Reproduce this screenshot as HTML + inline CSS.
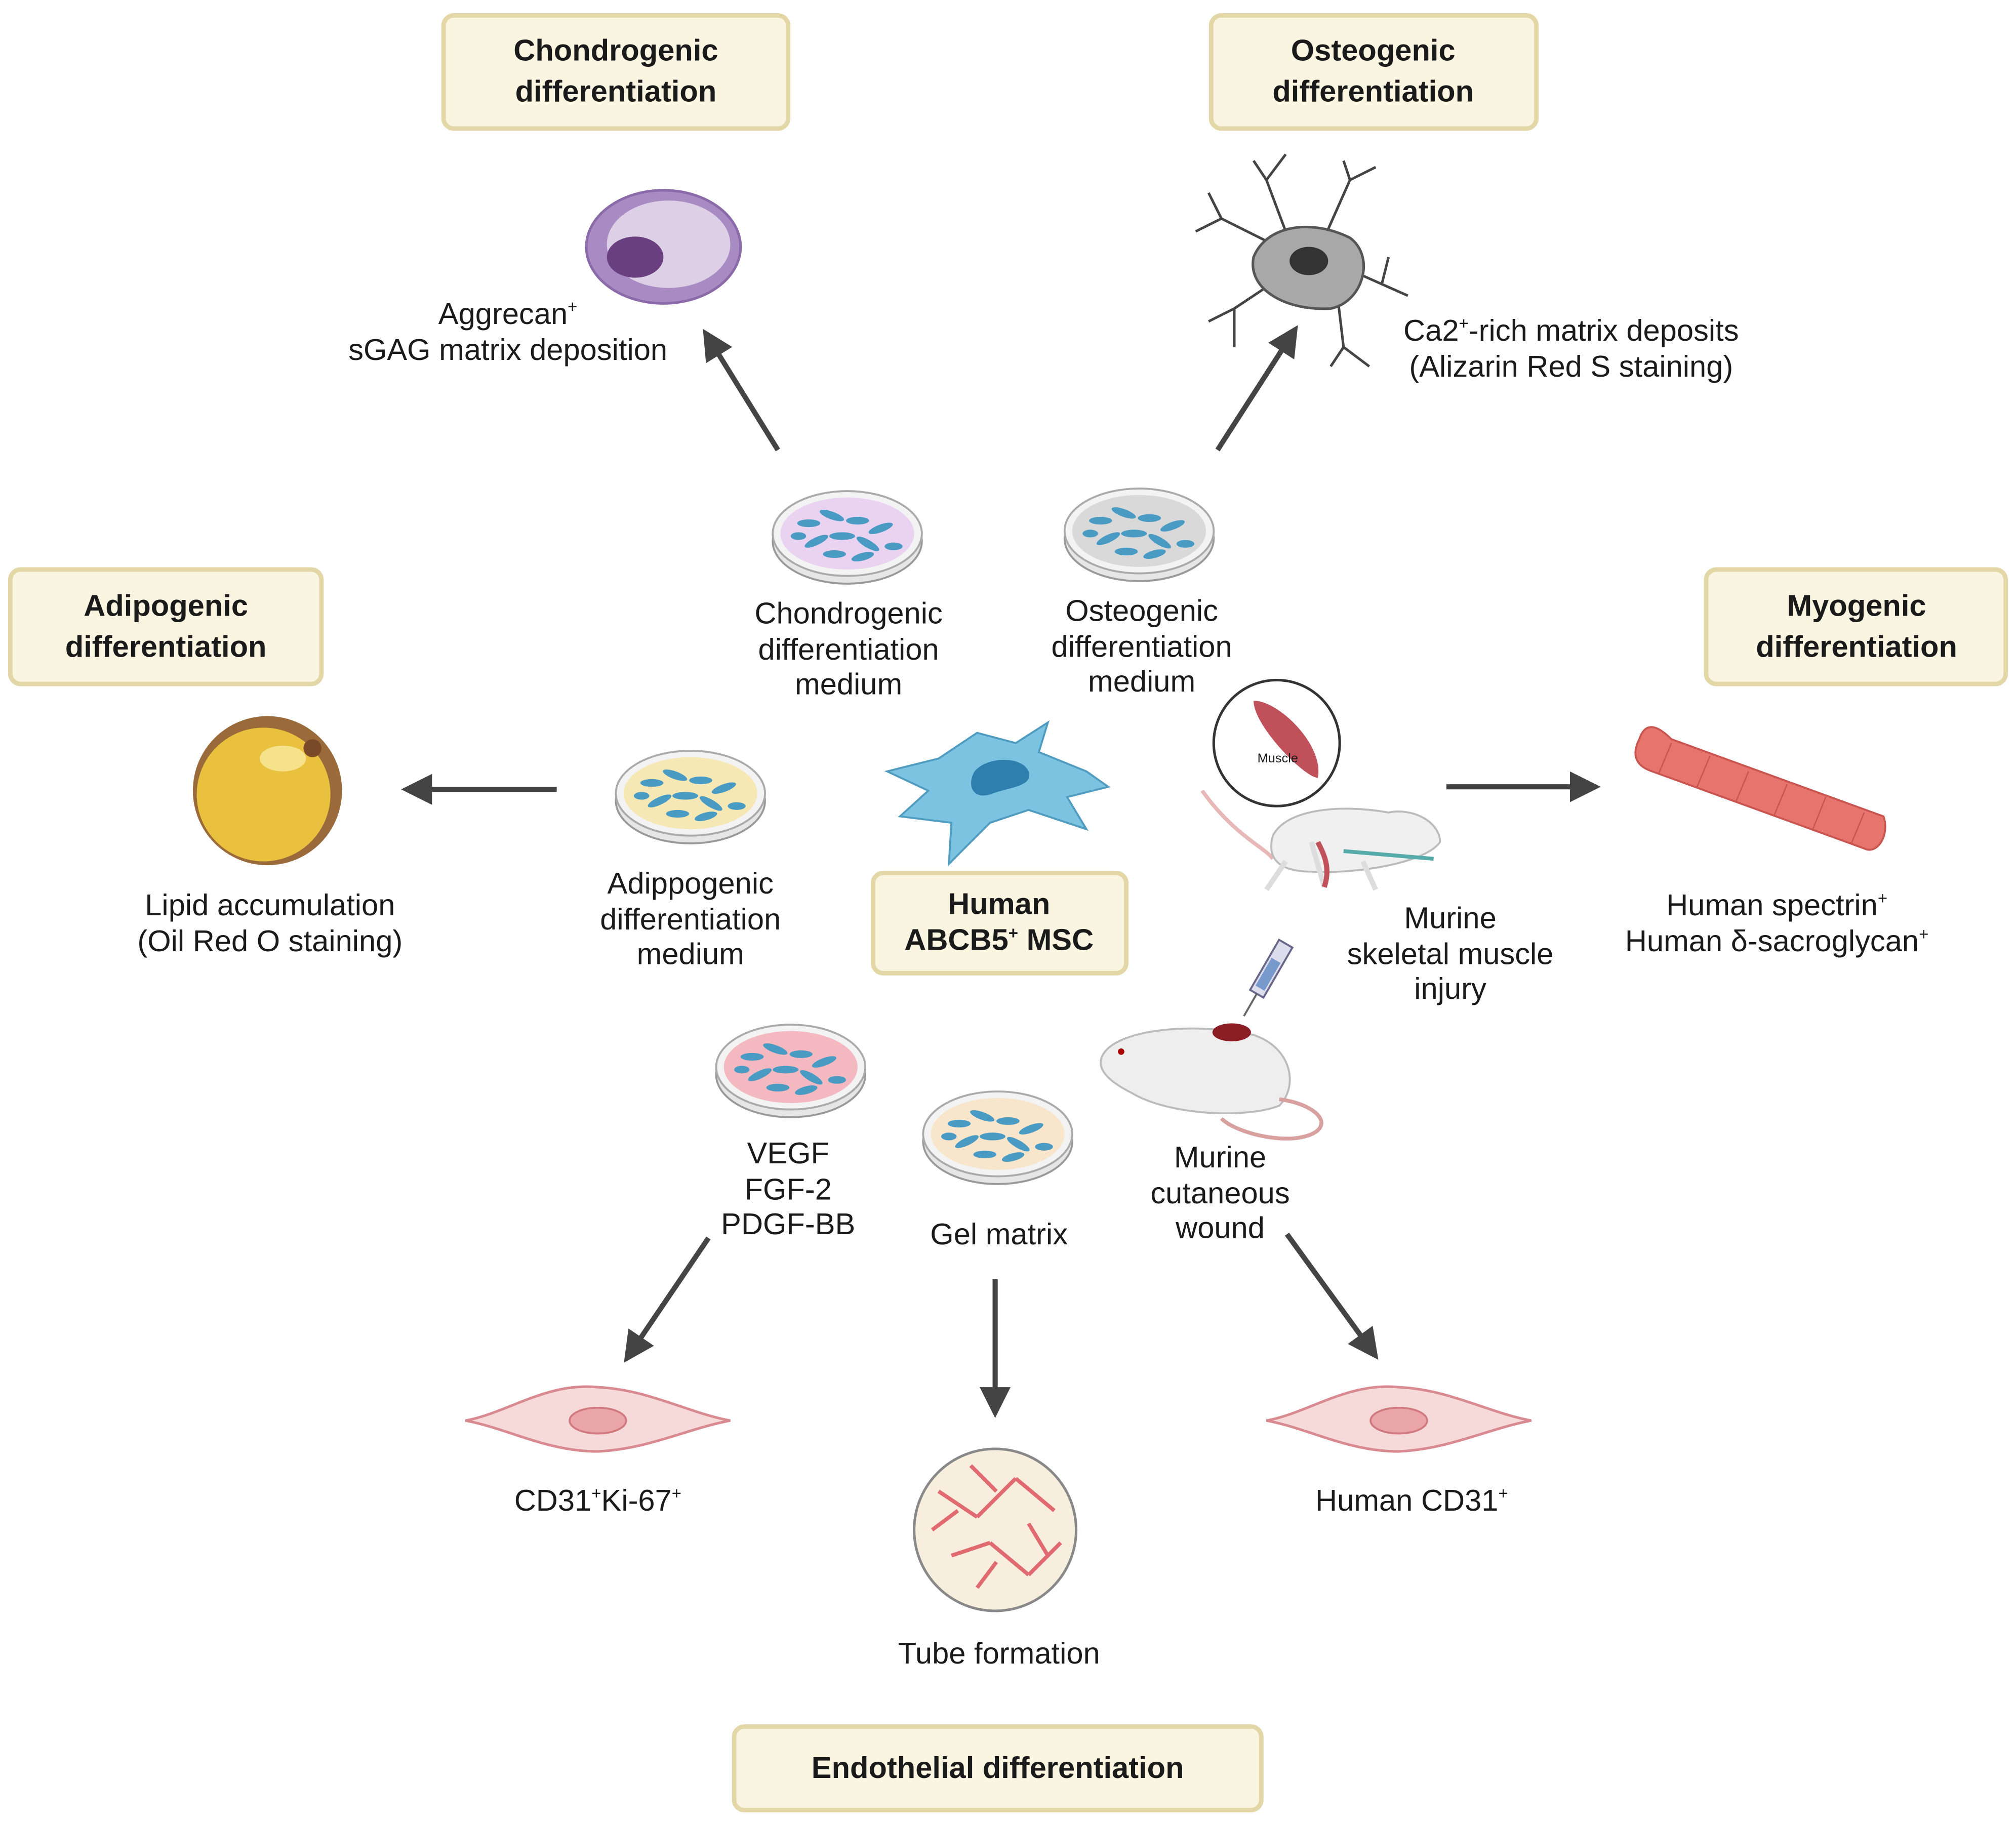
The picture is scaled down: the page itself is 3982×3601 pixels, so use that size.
<!DOCTYPE html>
<html><head><meta charset="utf-8"><style>
html,body{margin:0;padding:0;background:#fff;}
svg{display:block;}
text{font-family:"Liberation Sans",sans-serif;fill:#1a1a1a;}
.t{font-size:23.5px;text-anchor:middle;}
.b{font-size:23.5px;text-anchor:middle;font-weight:bold;}
.box{fill:#faf5e1;stroke:#e3d7a8;stroke-width:3.5;}
.ar{stroke:#444;stroke-width:4;fill:none;marker-end:url(#ah);}
</style></head><body>
<svg width="3982" height="3601" viewBox="0 0 1568 1418" xmlns="http://www.w3.org/2000/svg">
<defs>
<marker id="ah" markerWidth="6" markerHeight="6" refX="3" refY="3" orient="auto" markerUnits="strokeWidth">
<path d="M0,0 L6,3 L0,6 z" fill="#444"/></marker>
<g id="dish">
<ellipse cx="0" cy="6" rx="58" ry="33" fill="#e6e6e6" stroke="#999" stroke-width="1.5"/>
<ellipse cx="0" cy="0" rx="58" ry="33" fill="#f3f3f3" stroke="#aaa" stroke-width="1.5"/>
</g>
<g id="cells" fill="#4a9bc4">
<ellipse cx="-30" cy="-8" rx="9" ry="3"/><ellipse cx="-12" cy="-14" rx="10" ry="3" transform="rotate(20 -12 -14)"/>
<ellipse cx="8" cy="-10" rx="9" ry="3"/><ellipse cx="26" cy="-4" rx="10" ry="3" transform="rotate(-20 26 -4)"/>
<ellipse cx="-24" cy="6" rx="10" ry="3" transform="rotate(-25 -24 6)"/><ellipse cx="-4" cy="2" rx="10" ry="3"/>
<ellipse cx="16" cy="8" rx="10" ry="3" transform="rotate(30 16 8)"/><ellipse cx="-10" cy="16" rx="9" ry="3"/>
<ellipse cx="12" cy="18" rx="9" ry="3" transform="rotate(-15 12 18)"/><ellipse cx="36" cy="10" rx="7" ry="3"/>
<ellipse cx="-38" cy="2" rx="6" ry="3"/>
</g>
<g id="endo">
<path d="M-103,0 C-70,-6 -40,-30 0,-26 C40,-24 70,-6 103,0 C70,6 40,22 0,24 C-40,24 -70,6 -103,0 z" fill="#f6dada" stroke="#d98a90" stroke-width="2"/>
<ellipse cx="0" cy="0" rx="22" ry="10" fill="#eaa5a8" stroke="#d07a80" stroke-width="1.5"/>
</g>
</defs>

<!-- boxes -->
<rect class="box" x="345" y="12" width="268" height="88" rx="8"/>
<text class="b" x="479" y="47">Chondrogenic</text><text class="b" x="479" y="79">differentiation</text>
<rect class="box" x="942" y="12" width="253" height="88" rx="8"/>
<text class="b" x="1068" y="47">Osteogenic</text><text class="b" x="1068" y="79">differentiation</text>
<rect class="box" x="8" y="443" width="242" height="89" rx="8"/>
<text class="b" x="129" y="479">Adipogenic</text><text class="b" x="129" y="511">differentiation</text>
<rect class="box" x="1327" y="443" width="233" height="89" rx="8"/>
<text class="b" x="1444" y="479">Myogenic</text><text class="b" x="1444" y="511">differentiation</text>
<rect class="box" x="679" y="679" width="197" height="78" rx="8"/>
<text class="b" x="777" y="711">Human</text><text class="b" x="777" y="739">ABCB5<tspan font-size="13" dy="-9">+</tspan><tspan dy="9"> MSC</tspan></text>
<rect class="box" x="571" y="1343" width="410" height="65" rx="8"/>
<text class="b" x="776" y="1383">Endothelial differentiation</text>

<!-- arrows -->
<line class="ar" x1="605" y1="350" x2="553" y2="266"/>
<line class="ar" x1="947" y1="350" x2="1003" y2="263"/>
<line class="ar" x1="433" y1="614" x2="324" y2="614"/>
<line class="ar" x1="1125" y1="612" x2="1233" y2="612"/>
<line class="ar" x1="551" y1="963" x2="492" y2="1050"/>
<line class="ar" x1="774" y1="995" x2="774" y2="1091"/>
<line class="ar" x1="1001" y1="960" x2="1065" y2="1048"/>

<!-- chondrocyte -->
<ellipse cx="516" cy="192" rx="60" ry="44" fill="#a98bc4" stroke="#8a6aa8" stroke-width="2"/>
<ellipse cx="520" cy="190" rx="48" ry="34" fill="#ddd0e6"/>
<ellipse cx="494" cy="200" rx="22" ry="16" fill="#6a3f80"/>
<!-- osteocyte -->
<g stroke="#444" stroke-width="2" fill="none">
<path d="M990,190 L950,170 L930,180 M950,170 L940,150"/><path d="M1000,180 L985,140 L975,125 M985,140 L1000,120"/>
<path d="M1030,185 L1050,140 L1045,125 M1050,140 L1070,130"/><path d="M1050,210 L1095,230 M1075,220 L1080,200"/>
<path d="M1040,228 L1045,270 L1065,285 M1045,270 L1035,285"/><path d="M990,220 L960,240 L960,270 M960,240 L940,250"/>
</g>
<path d="M975,200 C985,175 1020,170 1050,185 C1070,200 1060,235 1035,240 C1000,242 970,225 975,200z" fill="#a8a8a8" stroke="#555" stroke-width="2"/>
<ellipse cx="1018" cy="203" rx="15" ry="11" fill="#333"/>
<!-- adipocyte -->
<circle cx="208" cy="615" r="58" fill="#9b6a3a"/>
<circle cx="205" cy="618" r="52" fill="#e9c13e"/>
<ellipse cx="220" cy="590" rx="18" ry="10" fill="#f7e28c"/>
<circle cx="243" cy="582" r="7" fill="#7a4a28"/>
<!-- MSC -->
<path d="M690,600 L730,590 L760,570 L790,578 L815,562 L808,585 L845,600 L862,612 L830,620 L845,645 L800,630 L770,640 L738,672 L740,640 L700,635 L722,615 z" fill="#7bc3e0" stroke="#4f9cc0" stroke-width="1.5"/>
<path d="M758,600 C768,588 795,588 800,600 C804,612 785,612 770,618 C756,622 752,610 758,600z" fill="#2f7fae"/>
<!-- dishes -->
<g transform="translate(659,415)"><use href="#dish"/><ellipse cx="0" cy="0" rx="52" ry="28" fill="#e9d3f0"/><use href="#cells"/></g>
<g transform="translate(886,413)"><use href="#dish"/><ellipse cx="0" cy="0" rx="52" ry="28" fill="#d9d9d9"/><use href="#cells"/></g>
<g transform="translate(537,617)"><use href="#dish"/><ellipse cx="0" cy="0" rx="52" ry="28" fill="#f5e8b4"/><use href="#cells"/></g>
<g transform="translate(615,830)"><use href="#dish"/><ellipse cx="0" cy="0" rx="52" ry="28" fill="#f3b8c0"/><use href="#cells"/></g>
<g transform="translate(776,882)"><use href="#dish"/><ellipse cx="0" cy="0" rx="52" ry="28" fill="#f7e6cc"/><use href="#cells"/></g>

<!-- muscle mouse -->
<circle cx="993" cy="578" r="49" fill="#fff" stroke="#333" stroke-width="2"/>
<path d="M975,545 C995,545 1030,580 1025,605 C1015,605 975,565 975,545z" fill="#c0505a"/>
<text x="978" y="593" font-size="10" fill="#333">Muscle</text>
<path d="M935,615 C960,650 985,660 990,668" stroke="#e8b8b8" stroke-width="3" fill="none"/>
<path d="M990,650 C1000,630 1040,625 1080,632 C1100,628 1120,640 1120,655 C1110,670 1060,680 1020,678 C995,678 985,668 990,650z" fill="#f0f0f0" stroke="#bbb" stroke-width="1.5"/>
<path d="M1020,655 L1030,690 M1060,670 L1070,692 M1000,670 L985,692" stroke="#ddd" stroke-width="4"/>
<path d="M1025,655 C1030,665 1035,675 1030,690" stroke="#c0505a" stroke-width="4" fill="none"/>
<line x1="1045" y1="662" x2="1115" y2="668" stroke="#5aa" stroke-width="3"/>
<!-- wound mouse -->
<path d="M858,820 C870,800 930,795 975,805 C1005,815 1010,845 995,860 C970,870 910,868 880,850 C860,840 852,830 858,820z" fill="#eeeeee" stroke="#bbb" stroke-width="1.5"/>
<path d="M995,855 C1030,860 1040,880 1010,885 C990,888 960,880 950,870" stroke="#d9a0a0" stroke-width="3" fill="none"/>
<ellipse cx="958" cy="803" rx="15" ry="7" fill="#8b1d24"/>
<circle cx="872" cy="818" r="2.5" fill="#a00"/>
<g transform="rotate(30 985 760)"><rect x="979" y="730" width="12" height="45" fill="#dde" stroke="#668" stroke-width="1.5"/><rect x="981" y="745" width="8" height="25" fill="#79c"/><line x1="985" y1="775" x2="985" y2="795" stroke="#666" stroke-width="1.5"/></g>

<!-- muscle fiber -->
<path d="M1275,575 C1280,560 1290,565 1300,575 L1465,635 C1470,650 1460,665 1450,660 L1285,600 C1270,595 1270,585 1275,575z" fill="#e8746e" stroke="#c85550" stroke-width="1.5"/>
<g stroke="#c85550" stroke-width="1">
<line x1="1300" y1="578" x2="1290" y2="602"/><line x1="1330" y1="588" x2="1320" y2="612"/><line x1="1360" y1="600" x2="1350" y2="624"/><line x1="1390" y1="610" x2="1380" y2="634"/><line x1="1420" y1="620" x2="1410" y2="645"/><line x1="1450" y1="632" x2="1440" y2="656"/></g>

<!-- endothelial -->
<use href="#endo" x="465" y="1105"/>
<use href="#endo" x="1088" y="1105"/>
<!-- tube formation -->
<circle cx="774" cy="1190" r="63" fill="#f8eedd" stroke="#888" stroke-width="2"/>
<g stroke="#e06a70" stroke-width="3">
<line x1="730" y1="1160" x2="760" y2="1180"/><line x1="760" y1="1180" x2="790" y2="1150"/><line x1="790" y1="1150" x2="820" y2="1175"/>
<line x1="740" y1="1210" x2="770" y2="1200"/><line x1="770" y1="1200" x2="800" y2="1225"/><line x1="800" y1="1225" x2="825" y2="1200"/>
<line x1="755" y1="1140" x2="775" y2="1160"/><line x1="725" y1="1190" x2="745" y2="1175"/><line x1="760" y1="1235" x2="775" y2="1215"/>
<line x1="800" y1="1185" x2="815" y2="1210"/></g>

<!-- labels -->
<text class="t" x="395" y="252">Aggrecan<tspan font-size="13" dy="-9">+</tspan></text>
<text class="t" x="395" y="280">sGAG matrix deposition</text>
<text class="t" x="1222" y="265">Ca2<tspan font-size="13" dy="-9">+</tspan><tspan dy="9">-rich matrix deposits</tspan></text>
<text class="t" x="1222" y="293">(Alizarin Red S staining)</text>
<text class="t" x="660" y="485">Chondrogenic</text><text class="t" x="660" y="513">differentiation</text><text class="t" x="660" y="540">medium</text>
<text class="t" x="888" y="483">Osteogenic</text><text class="t" x="888" y="511">differentiation</text><text class="t" x="888" y="538">medium</text>
<text class="t" x="210" y="712">Lipid accumulation</text><text class="t" x="210" y="740">(Oil Red O staining)</text>
<text class="t" x="537" y="695">Adippogenic</text><text class="t" x="537" y="723">differentiation</text><text class="t" x="537" y="750">medium</text>
<text class="t" x="1128" y="722">Murine</text><text class="t" x="1128" y="750">skeletal muscle</text><text class="t" x="1128" y="777">injury</text>
<text class="t" x="1382" y="712">Human spectrin<tspan font-size="13" dy="-9">+</tspan></text>
<text class="t" x="1382" y="740">Human δ-sacroglycan<tspan font-size="13" dy="-9">+</tspan></text>
<text class="t" x="613" y="905">VEGF</text><text class="t" x="613" y="933">FGF-2</text><text class="t" x="613" y="960">PDGF-BB</text>
<text class="t" x="777" y="968">Gel matrix</text>
<text class="t" x="949" y="908">Murine</text><text class="t" x="949" y="936">cutaneous</text><text class="t" x="949" y="963">wound</text>
<text class="t" x="465" y="1175">CD31<tspan font-size="13" dy="-9">+</tspan><tspan dy="9">Ki-67</tspan><tspan font-size="13" dy="-9">+</tspan></text>
<text class="t" x="1098" y="1175">Human CD31<tspan font-size="13" dy="-9">+</tspan></text>
<text class="t" x="777" y="1294">Tube formation</text>
</svg>
</body></html>
